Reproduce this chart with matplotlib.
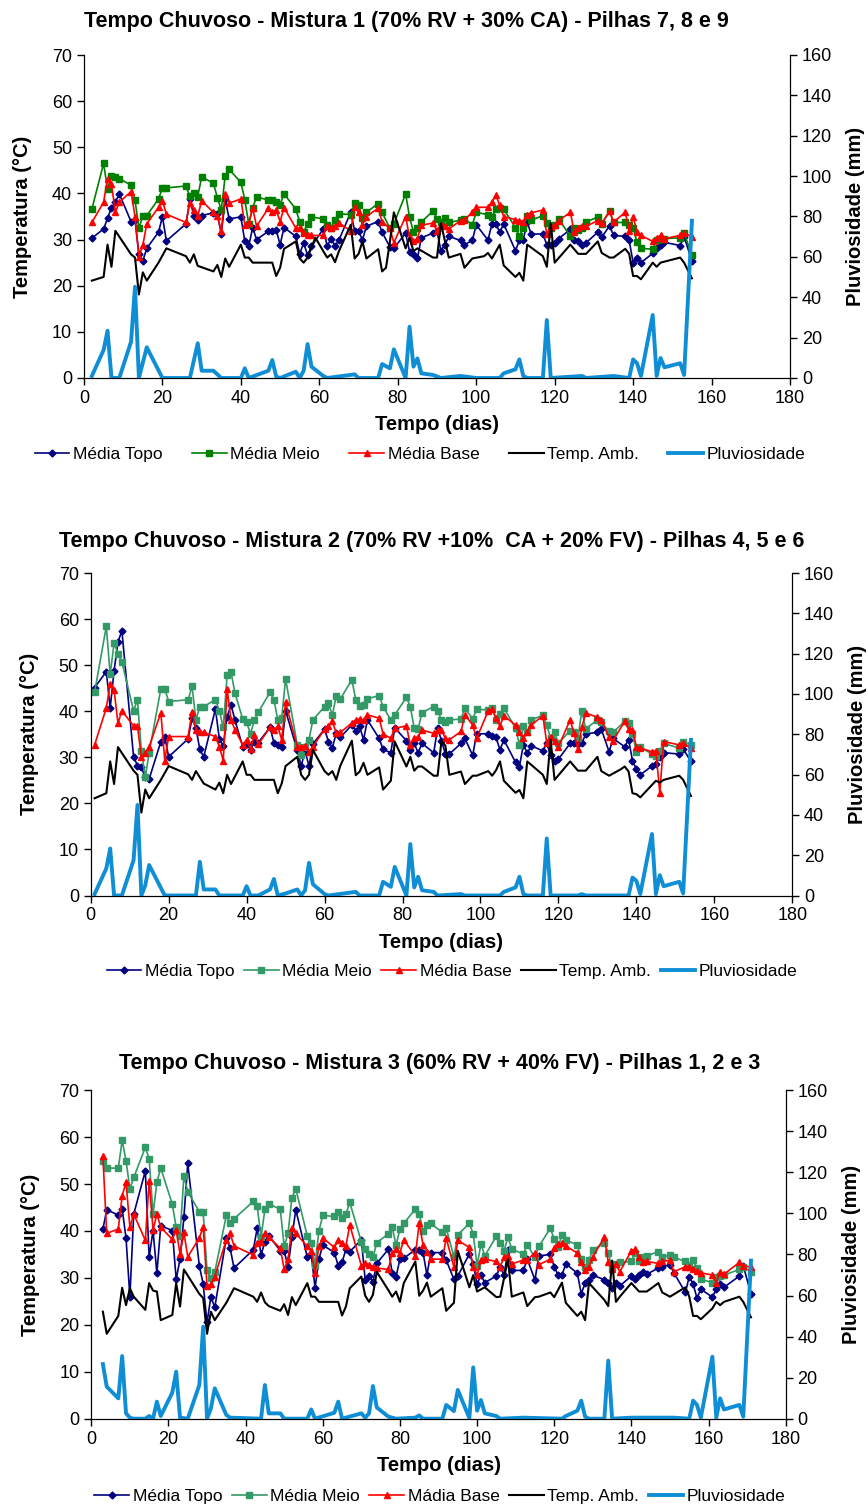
import matplotlib
matplotlib.use('Agg')
import matplotlib.pyplot as plt

plt.rcParams['font.family'] = ['Liberation Sans', 'DejaVu Sans']

# ---------------- Mistura 1 (pilhas 7, 8 e 9) ----------------
p1_days = [2, 5, 6, 7, 8, 9, 12, 13, 14, 15, 16, 19, 20, 21,
           26, 27, 28, 29, 30, 33, 34, 35, 36, 37, 40, 41, 42, 43, 44,
           47, 48, 49, 50, 51, 54, 55, 56, 57, 58, 61, 62, 63, 64, 65,
           68, 69, 70, 71, 72, 75, 76, 78, 79, 82, 83, 84, 85, 86,
           89, 90, 91, 92, 93, 96, 97, 99, 100, 103, 104, 105, 106, 107,
           110, 111, 112, 113, 114, 117, 118, 119, 120, 121, 124, 125, 126, 127, 128,
           131, 132, 134, 135, 138, 139, 140, 141, 142, 145, 146, 147, 148, 152, 153, 155]
p1_topo = [30.3, 32.3, 34.6, 36.9, 38.1, 39.9, 33.9, 34.3, 26.8, 25.4, 28.1, 31.6, 35.0, 29.7,
           33.4, 38.7, 35.2, 34.2, 35.2, 35.8, 35.5, 31.2, 38.7, 34.5, 34.9, 29.6, 28.6, 32.6, 30.0,
           31.8, 31.8, 32.1, 28.9, 32.6, 30.7, 26.9, 29.3, 26.6, 28.5, 32.3, 28.6, 30.2, 28.6, 29.9,
           35.9, 31.9, 31.9, 29.9, 32.9, 33.9, 31.6, 28.4, 28.1, 31.4, 27.4, 26.9, 25.9, 30.4,
           31.4, 31.8, 27.6, 28.8, 30.7, 29.8, 28.9, 29.8, 33.2, 29.9, 33.4, 33.4, 31.6, 33.4,
           27.6, 29.8, 30.0, 33.8, 31.2, 31.2, 28.9, 28.9, 29.3, 30.2, 32.2, 29.8, 29.6, 28.9, 29.3,
           31.6, 30.5, 33.0, 30.9, 30.7, 29.8, 25.0, 26.1, 25.0, 27.0, 28.1, 28.9, 29.4, 28.7, 30.6, 25.4]
p1_meio = [36.6, 46.5, 40.9, 43.8, 43.5, 43.2, 41.8, 38.6, 32.4, 35.2, 35.2, 38.8, 41.2, 41.2,
           41.6, 39.4, 40.2, 39.3, 43.6, 42.2, 39.1, 36.4, 43.8, 45.2, 42.4, 38.6, 33.4, 36.9, 39.2,
           38.6, 38.5, 38.1, 37.6, 39.9, 36.6, 33.8, 31.6, 33.4, 34.9, 34.5, 33.1, 32.6, 34.3, 35.6,
           35.4, 37.9, 37.4, 34.6, 35.9, 37.8, 35.9, 32.4, 33.4, 39.9, 34.9, 31.6, 32.5, 33.8,
           36.2, 34.5, 33.8, 34.6, 33.7, 34.2, 34.5, 33.2, 35.9, 35.4, 34.9, 36.6, 36.8, 36.6,
           32.6, 30.7, 32.5, 35.2, 34.2, 35.2, 33.6, 32.4, 33.1, 34.5, 30.7, 32.5, 32.1, 32.6, 33.8,
           34.9, 33.4, 36.2, 33.7, 33.7, 33.2, 32.6, 29.4, 28.1, 27.9, 29.8, 30.2, 30.2, 30.4, 31.4, 26.6]
p1_base = [33.7, 38.1, 43.2, 42.1, 35.9, 38.1, 40.4, 35.0, 26.3, 28.8, 33.4, 37.0, 38.4, 35.5,
           33.7, 38.0, 36.5, 35.1, 38.4, 35.9, 35.2, 31.9, 39.8, 37.9, 38.8, 33.2, 33.6, 36.8, 32.9,
           36.8, 35.9, 36.4, 33.9, 36.9, 32.5, 32.4, 31.4, 30.9, 30.9, 30.9, 32.9, 32.4, 33.0, 33.6,
           31.9, 37.1, 35.9, 33.2, 35.0, 36.8, 33.9, 32.4, 29.3, 35.0, 30.5, 29.6, 30.2, 33.1,
           33.6, 31.8, 33.2, 33.0, 32.3, 34.1, 34.3, 35.9, 37.0, 37.0, 38.1, 39.6, 37.4, 35.0,
           34.3, 34.1, 33.9, 35.4, 35.8, 36.4, 31.1, 32.8, 33.2, 34.1, 35.9, 31.6, 32.4, 33.0, 32.9,
           34.1, 33.5, 36.1, 33.8, 35.9, 31.9, 35.0, 31.6, 30.9, 29.6, 30.4, 30.9, 30.2, 30.9, 31.4, 30.6]
p1_amb_days = [2, 5, 6, 7, 8, 12, 13, 14, 15, 16, 19, 21, 26, 27, 28, 29,
               33, 34, 35, 36, 37, 40, 41, 42, 43, 47, 48, 49, 50, 51,
               54, 55, 56, 57, 58, 59, 61, 62, 63, 64, 65, 68, 69, 70, 71, 72,
               75, 76, 77, 78, 79, 82, 83, 84, 85, 89, 90, 91, 93, 96, 97, 99,
               102, 103, 104, 106, 107, 110, 111, 112, 113, 117, 118, 119, 120,
               124, 126, 128, 131, 132, 134, 135, 138, 139, 140, 141, 142,
               145, 146, 147, 152, 153, 155]
p1_amb = [21.1, 21.9, 28.9, 24.1, 31.9, 26.8, 26.1, 18.1, 22.9, 21.1, 25.0, 28.1, 26.4, 25.0, 26.8, 24.3,
          23.1, 24.5, 21.9, 25.9, 24.1, 28.9, 26.1, 26.1, 25.0, 25.0, 25.0, 22.1, 23.9, 28.0,
          29.6, 25.9, 25.0, 26.1, 28.4, 30.4, 27.5, 26.1, 26.8, 25.1, 27.5, 33.2, 25.9, 26.9, 29.6, 25.9,
          27.9, 23.1, 23.9, 29.6, 35.9, 28.1, 30.4, 27.5, 28.1, 26.1, 26.1, 33.5, 26.1, 26.9, 23.9, 25.9,
          26.4, 27.1, 25.9, 28.9, 24.4, 21.9, 22.8, 21.1, 28.9, 26.4, 24.1, 33.6, 25.0,
          28.9, 26.9, 26.9, 29.6, 27.1, 26.1, 26.1, 28.0, 26.9, 22.1, 22.1, 21.4,
          25.0, 24.1, 25.0, 26.1, 25.0, 21.6]
p1_rain_days = [2, 5, 6, 7, 9, 12, 13, 14, 16, 20, 27, 29, 30, 33, 35,
                40, 41, 42, 47, 48, 49, 50, 54, 55, 56, 57, 58, 61, 62, 69,
                70, 75, 76, 78, 79, 82, 83, 84, 85, 86, 89, 91, 96, 100, 106,
                107, 110, 111, 112, 113, 117, 118, 119, 127, 128, 135, 139, 140, 141, 142,
                145, 146, 147, 148, 152, 153, 155]
p1_rain = [1, 13.9, 23.4, 0, 0, 18, 45.2, 0, 15.2, 0, 0, 17.2, 3.6, 3.6, 0,
           0, 4.8, 0, 3.6, 8.9, 0.7, 0, 3.1, 0, 3.6, 16.8, 5.6, 1, 0, 1.8,
           0, 0, 6.9, 4.8, 14.2, 0, 25.4, 5.6, 9.7, 2.3, 1.5, 0, 1, 0, 0,
           2.3, 4.3, 9.2, 1, 0, 0, 28.7, 0, 1, 0, 1, 0, 9.2, 7.3, 1,
           31.2, 1, 9.9, 5.3, 7.3, 1.5, 77.9]

# ---------------- Mistura 2 (pilhas 4, 5 e 6) ----------------
p2_days = [1, 4, 5, 6, 7, 8, 11, 12, 13, 14, 15, 18, 19, 20,
           25, 26, 27, 28, 29, 32, 33, 34, 35, 36, 37, 39, 40, 41, 42, 43,
           46, 47, 48, 49, 50, 53, 54, 55, 56, 57, 60, 61, 62, 63, 64,
           67, 68, 69, 70, 71, 74, 75, 77, 78, 81, 82, 83, 84, 85,
           88, 89, 90, 91, 92, 95, 96, 98, 99, 102, 103, 104, 105, 106,
           109, 110, 111, 112, 113, 116, 117, 118, 119, 120, 123, 124, 125, 126, 127,
           130, 131, 133, 134, 137, 138, 139, 140, 141, 144, 145, 146, 147, 151, 152, 154]
p2_topo = [45.1, 48.6, 40.7, 48.8, 55.0, 57.5, 30.1, 28.2, 27.8, 25.7, 25.3, 33.4, 34.5, 30.1,
           34.0, 38.5, 36.3, 31.7, 30.1, 40.5, 34.0, 32.5, 38.8, 41.4, 38.1, 32.3, 32.9, 31.6, 33.4, 33.2,
           36.5, 33.2, 32.7, 32.3, 40.1, 31.5, 28.1, 31.4, 28.1, 32.9, 36.1, 33.4, 32.1, 35.2, 34.3,
           37.0, 35.8, 36.7, 33.8, 38.1, 34.1, 31.7, 31.0, 36.4, 33.6, 31.6, 33.0, 31.0, 33.0,
           31.0, 36.3, 33.6, 30.7, 30.7, 33.0, 34.1, 30.4, 35.1, 35.1, 34.6, 34.3, 31.6, 33.8,
           28.9, 28.0, 32.7, 30.9, 32.5, 31.4, 33.0, 30.5, 29.3, 29.6, 33.0, 33.0, 32.9, 33.0, 35.1,
           35.4, 36.1, 31.2, 34.1, 32.3, 33.8, 29.3, 27.4, 26.2, 28.1, 28.6, 30.1, 31.0, 30.7, 31.8, 29.1]
p2_meio = [44.1, 58.4, 48.0, 54.8, 52.5, 50.7, 40.1, 42.5, 31.4, 25.7, 31.0, 44.9, 44.9, 42.1,
           42.5, 45.4, 38.1, 41.0, 41.0, 42.5, 40.1, 36.5, 47.8, 48.5, 44.0, 38.3, 37.6, 35.1, 38.1, 39.8,
           44.1, 42.5, 38.1, 38.5, 47.0, 32.7, 30.5, 32.3, 33.8, 38.1, 41.0, 41.7, 39.1, 43.4, 42.6,
           46.8, 42.5, 41.2, 41.4, 42.7, 43.4, 41.0, 38.1, 39.2, 43.0, 41.0, 36.3, 36.2, 39.7,
           41.0, 40.1, 38.1, 37.6, 38.1, 38.3, 40.7, 38.3, 40.4, 40.3, 40.7, 38.1, 39.4, 40.7,
           36.3, 32.7, 36.7, 35.4, 38.1, 39.1, 37.0, 34.1, 35.4, 33.0, 35.8, 35.4, 34.1, 40.1, 36.2,
           38.1, 37.6, 35.6, 35.4, 37.8, 37.5, 35.1, 31.2, 32.2, 30.7, 30.3, 31.4, 33.0, 32.0, 33.3, 32.7]
p2_base = [32.7, 40.7, 45.9, 44.6, 37.4, 40.1, 36.8, 36.7, 30.1, 30.9, 32.3, 39.7, 29.3, 34.5,
           34.5, 39.9, 35.9, 35.5, 35.4, 34.5, 32.3, 29.3, 44.8, 38.1, 36.0, 32.7, 33.8, 31.7, 34.9, 32.8,
           36.5, 35.9, 36.7, 33.8, 41.9, 32.3, 32.2, 32.5, 31.2, 32.3, 36.1, 36.7, 37.8, 35.2, 35.4,
           37.4, 38.1, 38.3, 38.1, 39.2, 38.5, 35.1, 34.1, 36.3, 36.8, 32.7, 34.1, 34.5, 35.9,
           35.2, 35.9, 35.9, 34.1, 33.8, 35.6, 39.2, 37.0, 34.1, 40.1, 40.4, 38.5, 36.8, 39.0,
           37.0, 35.4, 34.1, 35.4, 37.0, 39.0, 33.2, 34.5, 33.5, 32.3, 38.1, 35.2, 31.7, 36.5, 39.6,
           38.7, 38.1, 34.3, 33.6, 37.8, 36.1, 35.9, 32.3, 32.0, 31.2, 31.4, 22.3, 33.4, 32.7, 33.0, 32.0]
p2_amb_days = [1, 4, 5, 6, 7, 11, 12, 13, 14, 15, 18, 20, 25, 26, 27, 29,
               32, 33, 34, 35, 36, 39, 40, 41, 42, 47, 48, 49, 50,
               53, 54, 55, 56, 57, 60, 61, 62, 63, 64, 67, 68, 69, 70, 71,
               74, 75, 77, 78, 81, 82, 83, 84, 85, 88, 89, 90, 91, 92,
               95, 96, 98, 99, 102, 103, 104, 105, 106, 109, 110, 111, 112,
               116, 117, 118, 119, 123, 125, 127, 130, 131, 133,
               136, 137, 138, 139, 140, 141, 144, 145, 146, 147, 151, 152, 154]
p2_amb = [21.1, 22.2, 29.1, 24.2, 32.2, 27.1, 26.2, 18.0, 23.0, 21.1, 25.1, 28.1, 26.3, 25.1, 27.0, 24.3,
          23.0, 24.5, 22.2, 26.2, 24.2, 29.1, 26.2, 26.2, 25.1, 25.1, 22.2, 24.3, 28.1,
          30.1, 26.2, 25.1, 26.2, 31.6, 27.0, 26.2, 27.0, 25.1, 28.1, 33.6, 26.1, 26.9, 28.8, 26.2,
          27.8, 23.0, 24.9, 33.4, 28.0, 30.1, 27.1, 28.0, 28.0, 26.0, 26.0, 33.6, 32.5, 26.2,
          26.9, 24.2, 26.0, 26.0, 27.0, 26.0, 27.2, 29.1, 24.9, 22.3, 22.9, 21.1, 29.1,
          26.2, 24.2, 33.8, 25.1, 29.1, 27.1, 27.1, 30.1, 27.0, 26.0,
          27.4, 28.0, 26.9, 22.2, 22.0, 21.3, 24.0, 24.9, 24.5, 25.1, 26.0, 25.1, 21.6]
p2_rain_days = [1, 4, 5, 6, 8, 11, 12, 13, 14, 15, 19, 27, 28, 29, 32,
                33, 39, 40, 41, 43, 46, 47, 48, 50, 53, 54, 55, 56, 57, 60,
                61, 68, 69, 74, 75, 77, 78, 81, 82, 83, 84, 85, 88, 89, 95,
                96, 105, 106, 109, 110, 111, 112, 116, 117, 118, 125, 126, 127, 138, 139,
                140, 141, 144, 145, 146, 147, 151, 152, 154]
p2_rain = [0.7, 13.4, 23.3, 0, 0, 17.5, 44.9, 0, 5.1, 15.1, 0, 0, 16.7, 3, 3,
           0, 0, 4.6, 0, 0, 3, 8.2, 0, 1, 3, 0, 2.6, 16.2, 5.6, 0.7,
           0, 1.8, 0, 0, 6.8, 4.3, 14.2, 0, 25.5, 4, 9.3, 2.6, 1.8, 0, 0.7,
           0, 0, 1.8, 4, 9.3, 0.7, 0, 0, 28.3, 0, 0, 0.7, 0, 0, 8.9,
           7.3, 0.7, 30.5, 0.7, 10.1, 4.6, 6.8, 1, 77.2]

# ---------------- Mistura 3 (pilhas 1, 2 e 3) ----------------
p3_days = [3, 4, 7, 8, 9, 10, 11, 14, 15, 16, 17, 18, 21, 22, 23, 24, 25,
           28, 29, 30, 31, 32, 35, 36, 37, 42, 43, 44, 45, 46, 49, 50, 51, 52, 53,
           56, 57, 58, 59, 60, 63, 64, 65, 66, 67, 70, 71, 72, 73, 74,
           77, 78, 79, 80, 81, 84, 85, 86, 87, 88, 91, 92, 94, 95,
           98, 99, 100, 101, 102, 105, 106, 107, 108, 109, 112, 113, 115, 116,
           119, 120, 121, 122, 123, 126, 127, 128, 129, 130, 133, 134, 135, 136, 137,
           140, 141, 142, 143, 144, 147, 148, 150, 151, 154, 155, 156, 157, 158,
           161, 162, 163, 164, 168, 169, 171]
p3_topo = [40.4, 44.5, 43.4, 44.7, 38.5, 26.0, 43.6, 52.8, 34.4, 40.1, 31.0, 41.1, 40.1, 29.7, 34.0, 42.9, 54.4,
           32.6, 28.7, 20.5, 26.0, 23.7, 38.5, 36.3, 32.1, 36.0, 40.6, 34.9, 37.7, 39.0, 35.8, 35.8, 32.3, 38.7, 44.5,
           34.4, 35.1, 27.9, 34.0, 37.0, 35.4, 32.6, 33.3, 36.1, 35.6, 38.1, 29.6, 30.4, 29.2, 33.1,
           36.1, 31.1, 30.3, 34.0, 34.2, 36.0, 36.0, 35.4, 30.6, 35.4, 35.4, 33.8, 29.7, 30.4,
           35.1, 33.0, 28.7, 30.6, 29.0, 30.4, 32.4, 30.6, 36.0, 31.6, 31.6, 34.0, 29.6, 34.7,
           35.0, 32.4, 30.6, 30.6, 33.0, 31.0, 26.6, 28.9, 29.6, 30.6, 29.6, 28.9, 27.8, 28.9, 28.3,
           30.4, 29.7, 30.6, 31.3, 30.8, 32.1, 32.4, 32.8, 31.1, 26.9, 30.3, 28.7, 25.7, 27.6,
           25.9, 27.6, 28.7, 28.0, 30.4, 32.6, 26.6]
p3_meio = [55.0, 53.4, 53.4, 59.3, 55.0, 49.0, 51.4, 57.8, 55.4, 43.6, 50.4, 53.4, 45.7, 40.8, 39.0, 51.7, 48.4,
           44.1, 44.0, 31.6, 29.9, 31.2, 43.3, 41.6, 42.6, 46.3, 45.3, 38.7, 44.6, 45.8, 44.6, 36.7, 39.5, 47.1, 49.0,
           38.9, 37.5, 32.8, 40.0, 43.3, 43.1, 44.1, 42.7, 43.6, 46.1, 37.7, 36.1, 35.0, 34.4, 37.5,
           39.4, 40.8, 37.0, 40.4, 41.6, 44.7, 43.6, 40.1, 41.3, 41.6, 39.7, 40.6, 34.5, 39.2,
           41.6, 39.4, 32.6, 37.2, 34.7, 38.9, 37.5, 35.8, 38.7, 36.1, 35.1, 37.0, 34.4, 36.7,
           40.6, 38.2, 36.5, 39.2, 38.1, 37.0, 34.0, 32.4, 33.8, 36.0, 37.4, 35.4, 32.1, 33.0, 33.3,
           33.5, 35.4, 33.5, 34.5, 34.7, 35.6, 34.4, 34.9, 34.4, 33.5, 32.8, 33.8, 32.1, 29.7,
           29.0, 30.1, 30.4, 30.6, 31.8, 32.4, 31.3]
p3_base = [55.9, 39.5, 40.4, 47.5, 50.4, 40.8, 43.6, 38.0, 50.7, 40.2, 43.6, 40.8, 38.2, 40.2, 35.1, 39.7, 34.5,
           38.5, 40.9, 28.3, 28.6, 30.3, 38.1, 39.5, 36.8, 34.9, 37.4, 37.7, 39.5, 38.7, 36.3, 31.8, 34.0, 40.6, 39.5,
           36.7, 35.8, 31.1, 36.8, 38.5, 36.5, 38.0, 37.5, 36.8, 41.3, 32.6, 33.1, 32.8, 32.4, 32.1,
           31.8, 35.4, 36.1, 35.4, 38.1, 34.7, 41.8, 37.0, 35.6, 34.0, 34.0, 38.5, 32.3, 38.0,
           36.5, 32.4, 30.6, 33.8, 34.0, 33.5, 32.4, 34.4, 34.7, 33.0, 33.8, 33.8, 35.4, 32.8,
           34.0, 36.3, 37.2, 37.4, 36.8, 35.3, 33.3, 31.7, 32.4, 34.5, 38.7, 33.3, 31.8, 33.0, 31.3,
           35.8, 36.1, 34.4, 33.3, 33.5, 33.1, 33.5, 33.8, 31.3, 32.4, 32.3, 31.8, 31.5, 31.1,
           30.6, 29.0, 31.3, 30.8, 33.3, 32.6, 32.3]
p3_amb_days = [3, 4, 7, 8, 9, 10, 11, 14, 15, 16, 17, 18, 21, 22, 23, 24,
               28, 29, 30, 31, 32, 35, 37, 42, 43, 44, 45, 46, 49, 50, 51, 52, 53,
               56, 57, 58, 59, 64, 65, 66, 67, 70, 71, 72, 73, 74, 77, 78, 79, 80, 81,
               84, 85, 86, 87, 88, 91, 92, 94, 95, 98, 99, 100, 102, 105, 106, 108, 109,
               112, 113, 115, 116, 119, 120, 122, 123, 126, 127, 128, 129,
               133, 134, 135, 136, 137, 140, 142, 144, 147, 148, 150,
               154, 155, 156, 157, 158, 161, 162, 163, 164, 168, 169, 171]
p3_amb = [22.8, 18.1, 21.9, 27.9, 24.2, 27.8, 26.0, 23.2, 28.9, 27.3, 27.1, 21.0, 22.1, 28.9, 23.9, 31.8,
          26.6, 25.7, 18.1, 22.8, 21.0, 24.7, 27.8, 26.0, 24.9, 26.9, 24.8, 24.0, 23.0, 24.4, 22.1, 25.9, 24.2,
          28.9, 26.0, 26.0, 24.9, 24.9, 22.0, 23.9, 27.8, 30.3, 26.2, 24.9, 26.4, 31.3, 27.4, 26.0, 27.1, 24.9, 28.9,
          33.5, 26.2, 27.3, 29.0, 26.0, 27.8, 23.0, 24.7, 35.8, 28.0, 30.6, 27.1, 28.0, 25.9, 26.0, 34.0, 26.0,
          26.9, 24.0, 25.9, 26.0, 26.9, 25.9, 29.0, 24.7, 21.9, 22.8, 21.0, 28.9,
          25.3, 24.0, 33.7, 24.9, 26.0, 28.9, 27.1, 27.1, 28.9, 26.9, 26.0,
          28.0, 26.0, 21.9, 21.9, 21.2, 23.5, 24.9, 24.2, 24.9, 26.0, 24.9, 21.6]
p3_rain_days = [3, 4, 7, 8, 9, 10, 11, 14, 15, 16, 17, 18, 21, 22, 23, 25,
                28, 29, 30, 31, 32, 35, 36, 44, 45, 46, 49, 50, 56, 57, 58,
                63, 64, 65, 70, 71, 72, 73, 74, 77, 79, 84, 85, 86,
                91, 92, 94, 95, 98, 99, 100, 101, 102, 105, 106, 112,
                122, 123, 126, 127, 128, 129, 133, 134, 135, 140, 144, 148, 151,
                155, 156, 157, 158, 161, 162, 163, 164, 168, 169, 171]
p3_rain = [26.6, 15.6, 9.9, 30.5, 2.6, 0.5, 0, 0, 1.3, 0, 8.3, 1.3, 12.7, 22.9, 0.5, 0,
           16.4, 44.8, 0, 5.0, 14.8, 1.8, 0.5, 0, 16.4, 2.6, 2.6, 0, 0, 4.5, 0,
           2.9, 8.3, 0, 2.6, 0.5, 2.6, 15.9, 5.5, 1, 0, 0.5, 1.6, 0,
           0, 6.7, 3.7, 14.0, 0.3, 25.0, 3.9, 9.1, 2.6, 1.3, 0, 0.5,
           0, 1.3, 3.9, 8.8, 1, 0, 0, 28.3, 0, 0.5, 0.5, 0.5, 0.5,
           0, 8.8, 6.7, 0.5, 30.2, 0.5, 9.9, 4.5, 6.7, 1, 77.0]

W, H = 868, 1505
fig = plt.figure(figsize=(W / 100, H / 100), dpi=100)


def panel(box, title, title_xy, days, topo, meio, base, amb_days, amb,
          rain_days, rain, meio_color, labels, leg_xy, colsp):
    left, top, right, bottom = box
    ax = fig.add_axes([left / W, 1 - bottom / H, (right - left) / W, (bottom - top) / H])
    l1, = ax.plot(days, topo, color='#000080', lw=1.2, marker='D', ms=3.5)
    l2, = ax.plot(days, meio, color=meio_color, lw=1.2, marker='s', ms=4.5)
    l3, = ax.plot(days, base, color='#FF0000', lw=1.2, marker='^', ms=5)
    l4, = ax.plot(amb_days, amb, color='black', lw=1.5)
    ax.set_xlim(0, 180)
    ax.set_ylim(0, 70)
    ax.set_xticks(range(0, 181, 20))
    ax.set_yticks(range(0, 71, 10))
    ax.set_xlabel('Tempo (dias)', fontsize=14.5, fontweight='bold', labelpad=6)
    ax.set_ylabel('Temperatura (°C)', fontsize=14.5, fontweight='bold', labelpad=14)
    ax.tick_params(direction='out', length=5, width=1, labelsize=13)
    ax.spines['top'].set_visible(False)

    ax2 = ax.twinx()
    l5, = ax2.plot(rain_days, rain, color='#0F8ED6', lw=2.8)
    ax2.set_ylim(0, 160)
    ax2.set_yticks(range(0, 161, 20))
    ax2.set_ylabel('Pluviosidade (mm)', fontsize=14.5, fontweight='bold', labelpad=10)
    ax2.tick_params(direction='out', length=5, width=1, labelsize=13)
    ax2.spines['top'].set_visible(False)

    fig.text(title_xy[0] / W, 1 - title_xy[1] / H, title, ha='center', va='center',
             fontsize=15.5, fontweight='bold')
    fig.legend([l1, l2, l3, l4, l5], labels, loc='center',
               bbox_to_anchor=(leg_xy[0] / W, 1 - leg_xy[1] / H), ncol=5,
               frameon=False, fontsize=12.5, handlelength=2.0, handletextpad=0.2,
               columnspacing=colsp, borderpad=0)


panel((84, 55, 790, 378), 'Tempo Chuvoso - Mistura 1 (70% RV + 30% CA) - Pilhas 7, 8 e 9', (406, 22),
      p1_days, p1_topo, p1_meio, p1_base, p1_amb_days, p1_amb, p1_rain_days, p1_rain, '#008000',
      ['Média Topo', 'Média Meio', 'Média Base', 'Temp. Amb.', 'Pluviosidade'], (420, 454), 1.7)

panel((90.7, 573, 792.3, 895.5), 'Tempo Chuvoso - Mistura 2 (70% RV +10%  CA + 20% FV) - Pilhas 4, 5 e 6', (432, 541),
      p2_days, p2_topo, p2_meio, p2_base, p2_amb_days, p2_amb, p2_rain_days, p2_rain, '#339966',
      ['Média Topo', 'Média Meio', 'Média Base', 'Temp. Amb.', 'Pluviosidade'], (452, 971), 0.55)

panel((91.3, 1090.2, 785.7, 1418.7), 'Tempo Chuvoso - Mistura 3 (60% RV + 40% FV) - Pilhas 1, 2 e 3', (440, 1063),
      p3_days, p3_topo, p3_meio, p3_base, p3_amb_days, p3_amb, p3_rain_days, p3_rain, '#339966',
      ['Média Topo', 'Média Meio', 'Mádia Base', 'Temp. Amb.', 'Pluviosidade'], (440, 1496), 0.55)

fig.savefig('out.png', dpi=100)
